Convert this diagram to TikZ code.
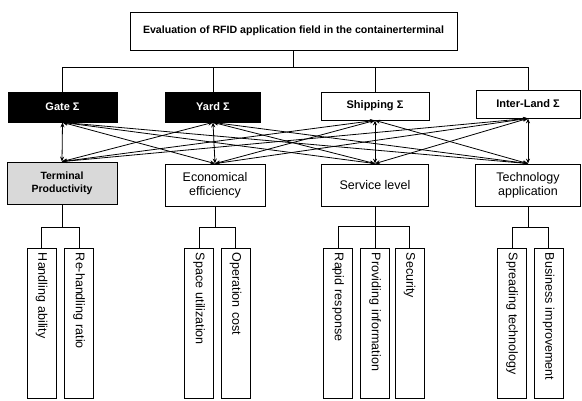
\documentclass[tikz,border=0pt]{standalone}
\usepackage{fontspec}
\setmainfont{Liberation Sans}
\usetikzlibrary{arrows.meta}
\begin{document}
\begin{tikzpicture}
  [x=1pt,y=-1pt,line width=0.8pt,
   box/.style={draw,rectangle,inner sep=2pt,align=center,font=\fontsize{12.5}{14}\selectfont},
   blackhead/.style={box,fill=black,text=white,minimum height=30,font=\fontsize{11}{13}\selectfont\bfseries},
   whitehead/.style={box,minimum height=28,font=\fontsize{11}{13}\selectfont\bfseries},
   crit/.style={box,minimum height=42},
   leaf/.style={draw,rotate=-90,minimum height=29,text width=140,inner xsep=5pt,align=left,font=\fontsize{12.5}{14}\selectfont},
   link/.style={{Stealth[length=5pt,width=4pt]}-{Stealth[length=5pt,width=4pt]}}]
  \useasboundingbox (0,0) rectangle (582,401);

  \node[box,minimum width=327,minimum height=38,font=\fontsize{10.6}{12}\selectfont\bfseries] (top) at (293.5,31)
    {Evaluation of RFID application field in the containerterminal};

  \node[blackhead,minimum width=109] (gate) at (62.5,107) {Gate Σ};
  \node[blackhead,minimum width=95] (yard) at (213,107) {Yard Σ};
  \node[whitehead,minimum width=108] (ship) at (375,106) {Shipping Σ};
  \node[whitehead,minimum width=104] (inter) at (528,104) {Inter-Land Σ};

  \node[crit,minimum width=110,fill=black!15,font=\fontsize{10.5}{13}\selectfont\bfseries] (term) at (62,183) {Terminal\\Productivity};
  \node[crit,minimum width=100] (econ) at (215,185) {Economical\\efficiency};
  \node[crit,minimum width=107] (serv) at (375,185) {Service level};
  \node[crit,minimum width=105] (tech) at (528,185) {Technology\\application};

  \node[leaf] (hand) at (41.5,323) {Handling ability};
  \node[leaf] (rehand) at (79,323) {Re-handling ratio};
  \node[leaf] (space) at (199,323) {Space utilization};
  \node[leaf] (oper) at (235.5,323) {Operation cost};
  \node[leaf] (rapid) at (338,323) {Rapid response};
  \node[leaf] (provid) at (375,323) {Providing information};
  \node[leaf] (secur) at (409.5,323) {Security};
  \node[leaf] (spread) at (512,323) {Spreading technology};
  \node[leaf] (busi) at (548.5,323) {Business improvement};

  \draw (top.south) -- (top.south |- 0,67);
  \draw (gate.north) |- (inter.north |- 0,67) -- (inter.north);
  \foreach \n in {yard,ship}
    \draw (\n.north) -- (\n.north |- 0,67);

  \foreach \from in {gate,yard,ship,inter}
    \foreach \to in {term,econ,serv,tech}
      \draw[link] (\from.south) -- (\to.north);

  \foreach \up/\a/\b in {term/hand/rehand,econ/space/oper,tech/spread/busi} {
    \draw (\up.south) -- (\up.south |- 0,227);
    \draw (\a.west) |- (\b.west |- 0,227) -- (\b.west);
  }
  \draw (serv.south) -- (serv.south |- provid.west);
  \draw (rapid.west) |- (secur.west |- 0,226) -- (secur.west);

\end{tikzpicture}
\end{document}
